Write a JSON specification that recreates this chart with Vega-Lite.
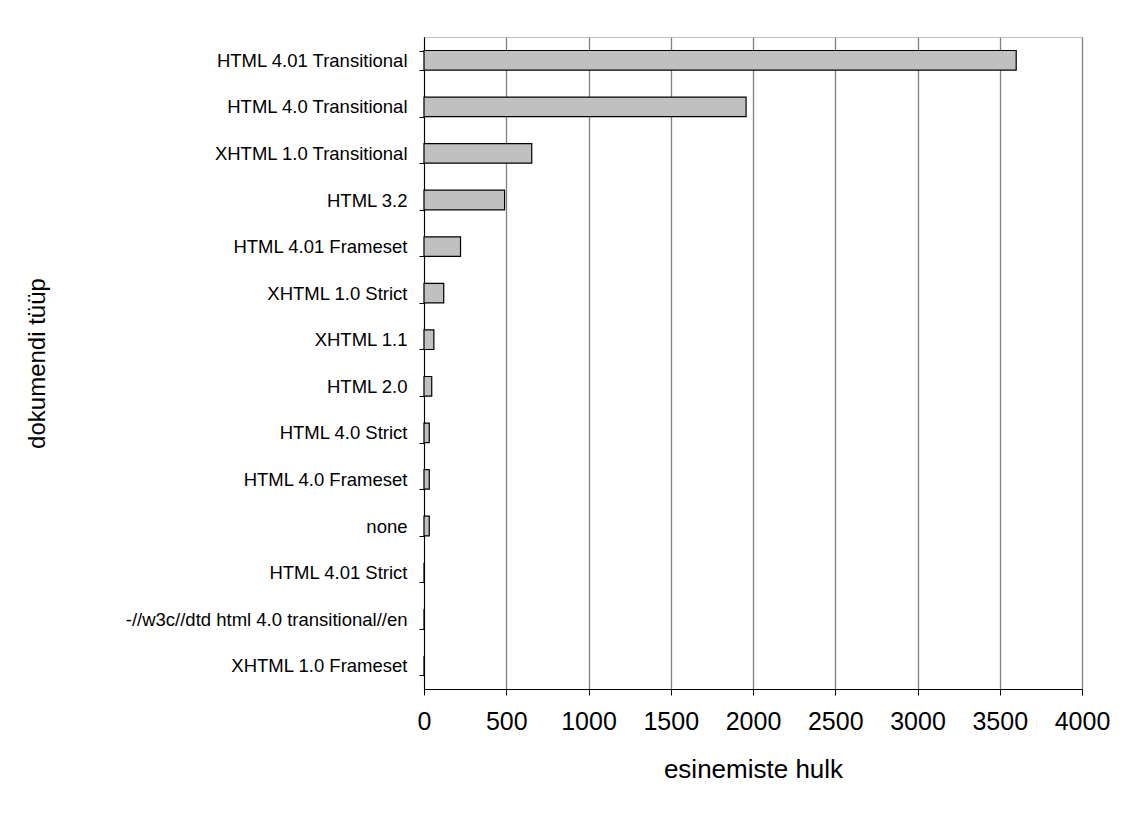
{
  "$schema": "https://vega.github.io/schema/vega-lite/v6.json",
  "autosize": {"type": "none"},
  "padding": {"left": 424, "top": 37, "right": 43, "bottom": 134},
  "width": 658,
  "height": 652,
  "background": "white",
  "data": {
    "values": [
      {"type": "HTML 4.01 Transitional", "count": 3600},
      {"type": "HTML 4.0 Transitional", "count": 1958},
      {"type": "XHTML 1.0 Transitional", "count": 655},
      {"type": "HTML 3.2", "count": 490},
      {"type": "HTML 4.01 Frameset", "count": 222},
      {"type": "XHTML 1.0 Strict", "count": 120},
      {"type": "XHTML 1.1", "count": 60},
      {"type": "HTML 2.0", "count": 47},
      {"type": "HTML 4.0 Strict", "count": 32},
      {"type": "HTML 4.0 Frameset", "count": 32},
      {"type": "none", "count": 32},
      {"type": "HTML 4.01 Strict", "count": 0},
      {"type": "-//w3c//dtd html 4.0 transitional//en", "count": 0},
      {"type": "XHTML 1.0 Frameset", "count": 0}
    ]
  },
  "mark": {"type": "bar", "color": "#c0c0c0", "stroke": "#000000", "strokeWidth": 1.2},
  "encoding": {
    "y": {
      "field": "type",
      "type": "nominal",
      "sort": null,
      "scale": {"paddingInner": 0.58, "paddingOuter": 0.29},
      "axis": {
        "title": "dokumendi tüüp",
        "titleFont": "Liberation Sans",
        "titleFontSize": 24,
        "titleFontWeight": "normal",
        "titleColor": "#000000",
        "titlePadding": 175,
        "labelFont": "Liberation Sans",
        "labelFontSize": 18.5,
        "labelColor": "#000000",
        "labelPadding": 12,
        "labelLimit": 400,
        "tickBand": "extent",
        "tickSize": 5,
        "tickColor": "#000000",
        "domainColor": "#000000",
        "grid": false
      }
    },
    "x": {
      "field": "count",
      "type": "quantitative",
      "scale": {"domain": [0, 4000], "nice": false},
      "axis": {
        "title": "esinemiste hulk",
        "titleFont": "Liberation Sans",
        "titleFontSize": 26,
        "titleFontWeight": "normal",
        "titleColor": "#000000",
        "titlePadding": 22,
        "values": [0, 500, 1000, 1500, 2000, 2500, 3000, 3500, 4000],
        "format": "d",
        "labelOverlap": false,
        "labelFlush": false,
        "labelFont": "Liberation Sans",
        "labelFontSize": 25,
        "labelColor": "#000000",
        "labelPadding": 14,
        "tickSize": 6,
        "tickColor": "#000000",
        "domainColor": "#000000",
        "grid": true,
        "gridColor": "#808080",
        "gridWidth": 1.3
      }
    }
  },
  "config": {
    "view": {"stroke": "#c0c0c0", "strokeWidth": 1}
  }
}
